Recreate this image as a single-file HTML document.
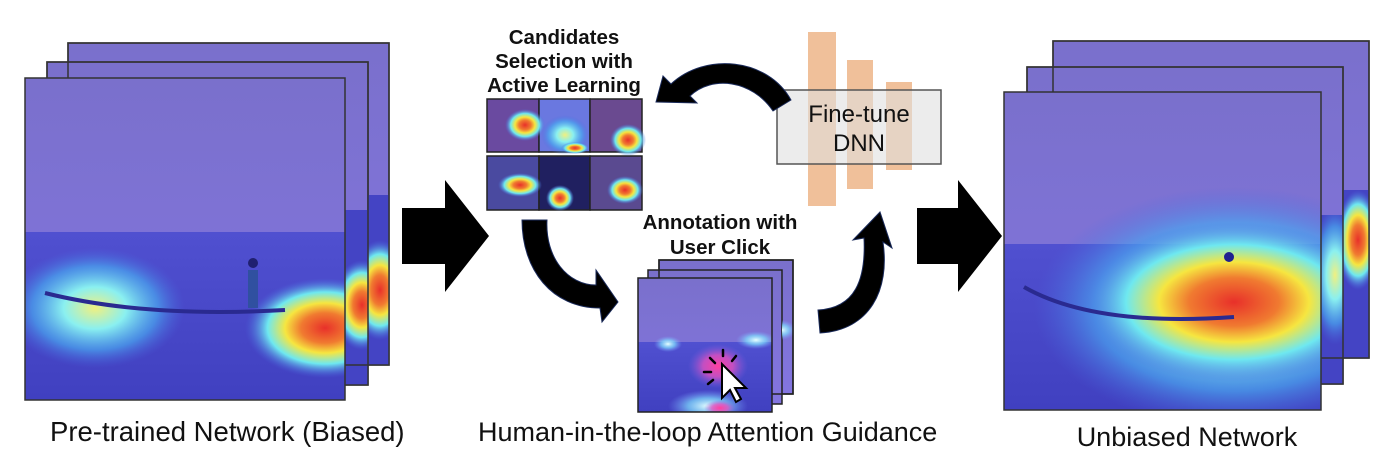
<!DOCTYPE html>
<html><head><meta charset="utf-8"><style>
html,body{margin:0;padding:0;background:#fff;}
svg{display:block}
text{font-family:"Liberation Sans",sans-serif;}
</style></head><body>
<svg width="1390" height="464" viewBox="0 0 1390 464" xmlns="http://www.w3.org/2000/svg">
<defs>
<linearGradient id="sky" x1="0" y1="0" x2="0" y2="1">
<stop offset="0" stop-color="#7a70cc"/><stop offset="1" stop-color="#8375e0"/>
</linearGradient>
<linearGradient id="sea" x1="0" y1="0" x2="0" y2="1">
<stop offset="0" stop-color="#5050d0"/><stop offset="1" stop-color="#4040c0"/>
</linearGradient>
<radialGradient id="hot">
<stop offset="0" stop-color="#e8302a"/><stop offset="0.3" stop-color="#f07a30"/><stop offset="0.5" stop-color="#f6e640"/><stop offset="0.72" stop-color="#6ee8f0"/><stop offset="1" stop-color="#4a6ae0" stop-opacity="0"/>
</radialGradient>
<radialGradient id="cool">
<stop offset="0" stop-color="#f0f080"/><stop offset="0.35" stop-color="#8af0f0"/><stop offset="0.7" stop-color="#4aa8f0" stop-opacity="0.7"/><stop offset="1" stop-color="#4a6ae0" stop-opacity="0"/>
</radialGradient>
<radialGradient id="pink">
<stop offset="0" stop-color="#ff40a0"/><stop offset="0.5" stop-color="#e050c0" stop-opacity="0.8"/><stop offset="1" stop-color="#8060e0" stop-opacity="0"/>
</radialGradient>
<radialGradient id="cyan">
<stop offset="0" stop-color="#e8ffff"/><stop offset="0.5" stop-color="#80e0ff" stop-opacity="0.7"/><stop offset="1" stop-color="#80a0ff" stop-opacity="0"/>
</radialGradient>
<clipPath id="cL1"><rect x="368" y="195" width="21" height="170"/></clipPath>
<clipPath id="cL2"><rect x="345" y="210" width="23" height="175"/></clipPath>
<clipPath id="cR1"><rect x="1343" y="190" width="26" height="168"/></clipPath>
<clipPath id="cR2"><rect x="1321" y="215" width="22" height="169"/></clipPath>
<clipPath id="cM1"><rect x="782" y="260" width="11" height="134"/></clipPath>
</defs>

<!-- LEFT STACK -->
<g stroke="#333" stroke-width="1.5">
<rect x="68" y="43" width="321" height="322" fill="url(#sky)"/>
<rect x="47" y="62" width="321" height="323" fill="url(#sky)"/>
</g>
<g clip-path="url(#cL1)"><rect x="368" y="195" width="21" height="170" fill="#4444c4"/>
<ellipse cx="380" cy="290" rx="30" ry="50" fill="url(#hot)"/></g>
<g clip-path="url(#cL2)"><rect x="345" y="210" width="23" height="175" fill="#4444c4"/>
<ellipse cx="362" cy="305" rx="30" ry="45" fill="url(#hot)"/></g>
<rect x="68" y="43" width="321" height="322" fill="none" stroke="#333" stroke-width="1.5"/>
<rect x="47" y="62" width="321" height="323" fill="none" stroke="#333" stroke-width="1.5"/>
<svg x="25" y="78" width="320" height="322">
<rect width="320" height="322" fill="url(#sky)"/>
<rect y="154" width="320" height="168" fill="url(#sea)"/>
<ellipse cx="70" cy="230" rx="90" ry="60" fill="url(#cool)"/>
<ellipse cx="300" cy="250" rx="80" ry="50" fill="url(#hot)"/>
<path d="M20 215 Q120 240 260 232" stroke="#2a2a90" stroke-width="4" fill="none"/>
<rect x="223" y="192" width="10" height="38" fill="#3050a0"/>
<circle cx="228" cy="185" r="5" fill="#202070"/>
</svg>
<rect x="25" y="78" width="320" height="322" fill="none" stroke="#333" stroke-width="1.5"/>
<text x="50" y="441" font-size="27.5" fill="#111">Pre-trained Network (Biased)</text>

<!-- Big arrows -->
<path d="M402 208 H445 V180 L489 236 L445 292 V264 H402 Z" fill="#000"/>
<path d="M917 208 H958 V180 L1002 236 L958 292 V264 H917 Z" fill="#000"/>

<!-- Candidates -->
<text font-size="20.5" font-weight="bold" fill="#111" text-anchor="middle"><tspan x="564" y="44">Candidates</tspan><tspan x="564" y="68">Selection with</tspan><tspan x="564" y="92">Active Learning</tspan></text>
<g stroke="#222" stroke-width="1.5">
<rect x="487" y="99" width="52" height="53" fill="#6a4aa0"/>
<rect x="539" y="99" width="51" height="53" fill="#6a78e0"/>
<rect x="590" y="99" width="52" height="53" fill="#6a4a90"/>
<rect x="487" y="156" width="52" height="54" fill="#4a4aa0"/>
<rect x="539" y="156" width="51" height="54" fill="#202060"/>
<rect x="590" y="156" width="52" height="54" fill="#5a4a90"/>
</g>
<ellipse cx="525" cy="125" rx="20" ry="16" fill="url(#hot)"/>
<ellipse cx="565" cy="135" rx="24" ry="20" fill="url(#cool)"/>
<ellipse cx="575" cy="148" rx="14" ry="6" fill="url(#hot)"/>
<ellipse cx="628" cy="140" rx="18" ry="16" fill="url(#hot)"/>
<ellipse cx="520" cy="185" rx="22" ry="12" fill="url(#hot)"/>
<ellipse cx="560" cy="198" rx="14" ry="13" fill="url(#hot)"/>
<ellipse cx="625" cy="190" rx="18" ry="14" fill="url(#hot)"/>

<!-- Fine-tune -->
<rect x="808" y="32" width="28" height="174" fill="#f0c09a"/>
<rect x="847" y="60" width="26" height="129" fill="#f0c09a"/>
<rect x="886" y="82" width="26" height="88" fill="#f0c09a"/>
<rect x="777" y="90" width="164" height="74" fill="#e0e0e0" fill-opacity="0.6" stroke="#555" stroke-width="1.5"/>
<text font-size="24" fill="#111" text-anchor="middle"><tspan x="859" y="122">Fine-tune</tspan><tspan x="859" y="151">DNN</tspan></text>

<!-- curved arrows -->
<g fill="#000" stroke="#1a2a5a" stroke-width="1">
<path d="M773 111 C752 80 712 75 690 96 L697 103 L656 102 L663 76 L671 84 C705 52 768 58 791 100 Z"/>
<path d="M547 220 C545 258 568 285 596 285 L596 270 L618 302 L602 322 L600 308 C552 308 522 270 522 220 Z"/>
<path d="M818 310 C855 308 866 280 864 238 L853 240 L880 212 L892 248 L883 242 C890 290 870 330 820 333 Z"/>
</g>

<!-- Annotation -->
<text font-size="20.5" font-weight="bold" fill="#111" text-anchor="middle"><tspan x="720" y="229">Annotation with</tspan><tspan x="720" y="254">User Click</tspan></text>
<g stroke="#222" stroke-width="1.5">
<rect x="659" y="260" width="134" height="134" fill="url(#sky)"/>
<rect x="648" y="270" width="134" height="134" fill="url(#sky)"/>
</g>
<g clip-path="url(#cM1)"><ellipse cx="782" cy="330" rx="14" ry="10" fill="url(#cyan)"/></g>
<rect x="659" y="260" width="134" height="134" fill="none" stroke="#222" stroke-width="1.5"/>
<svg x="638" y="278" width="134" height="134">
<rect width="134" height="134" fill="url(#sky)"/>
<rect y="64" width="134" height="70" fill="url(#sea)"/>
<ellipse cx="30" cy="66" rx="14" ry="8" fill="url(#cyan)"/>
<ellipse cx="118" cy="62" rx="20" ry="9" fill="url(#cyan)"/>
<ellipse cx="80" cy="88" rx="30" ry="22" fill="url(#pink)"/>
<ellipse cx="70" cy="128" rx="40" ry="16" fill="url(#cyan)"/>
<ellipse cx="82" cy="130" rx="16" ry="8" fill="url(#pink)"/>
<path d="M84 86 L84 120 L92 112 L98 124 L103 121 L97 110 L108 110 Z" fill="#fff" stroke="#000" stroke-width="2"/>
<g stroke="#000" stroke-width="2.5" stroke-linecap="round"><line x1="72" y1="80" x2="77" y2="85"/><line x1="85" y1="72" x2="85" y2="78"/><line x1="98" y1="78" x2="94" y2="83"/><line x1="66" y1="94" x2="73" y2="94"/><line x1="70" y1="106" x2="75" y2="102"/></g>
</svg>
<rect x="638" y="278" width="134" height="134" fill="none" stroke="#222" stroke-width="1.5"/>
<text x="478" y="441" font-size="27" fill="#111">Human-in-the-loop Attention Guidance</text>

<!-- RIGHT STACK -->
<g stroke="#333" stroke-width="1.5">
<rect x="1053" y="41" width="316" height="317" fill="url(#sky)"/>
<rect x="1027" y="67" width="316" height="317" fill="url(#sky)"/>
</g>
<g clip-path="url(#cR1)"><rect x="1343" y="190" width="26" height="168" fill="#4444c4"/>
<ellipse cx="1358" cy="240" rx="22" ry="50" fill="url(#hot)"/></g>
<g clip-path="url(#cR2)"><rect x="1321" y="215" width="22" height="169" fill="#4444c4"/>
<ellipse cx="1335" cy="275" rx="25" ry="70" fill="url(#cool)"/></g>
<rect x="1053" y="41" width="316" height="317" fill="none" stroke="#333" stroke-width="1.5"/>
<rect x="1027" y="67" width="316" height="317" fill="none" stroke="#333" stroke-width="1.5"/>
<svg x="1004" y="92" width="317" height="318">
<rect width="317" height="318" fill="url(#sky)"/>
<rect y="152" width="317" height="166" fill="url(#sea)"/>
<ellipse cx="230" cy="215" rx="200" ry="120" fill="url(#cool)"/>
<ellipse cx="230" cy="210" rx="150" ry="80" fill="url(#hot)"/>
<path d="M20 195 Q90 235 230 225" stroke="#2a2a90" stroke-width="4" fill="none"/>
<circle cx="225" cy="165" r="5" fill="#202090"/>
</svg>
<rect x="1004" y="92" width="317" height="318" fill="none" stroke="#333" stroke-width="1.5"/>
<text x="1187" y="446" font-size="27" fill="#111" text-anchor="middle">Unbiased Network</text>
</svg>
</body></html>
